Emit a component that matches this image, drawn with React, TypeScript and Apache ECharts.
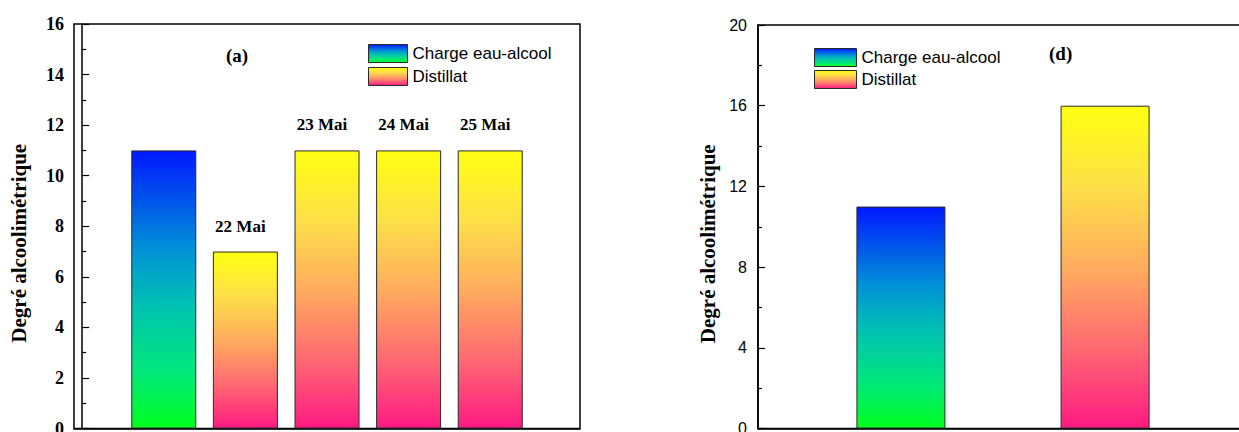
import React, { useEffect, useRef } from "react";
import * as echarts from "echarts";

// ---- data ----
const seriesNames = ["Charge eau-alcool", "Distillat"];
const leftChargeValues = [11];
const leftDistillatValues = [7, 11, 11, 11];
const leftDistillatLabels = ["22 Mai", "23 Mai", "24 Mai", "25 Mai"];
const rightChargeValues = [11];
const rightDistillatValues = [16];
const leftYMax = 16;
const leftYStep = 2;
const rightYMax = 20;
const rightYStep = 4;
const yTitle = "Degré alcoolimétrique";
const leftPanelTag = "(a)";
const rightPanelTag = "(d)";

const SERIF = "'Liberation Serif', 'Times New Roman', serif";
const SANS = "'Liberation Sans', Arial, sans-serif";

const chargeGradient = () =>
  new echarts.graphic.LinearGradient(0, 0, 0, 1, [
    { offset: 0, color: "#0018ff" },
    { offset: 0.35, color: "#0090d8" },
    { offset: 0.55, color: "#00c0b4" },
    { offset: 0.8, color: "#00e87a" },
    { offset: 1, color: "#00ff1e" },
  ]);
const distGradient = () =>
  new echarts.graphic.LinearGradient(0, 0, 0, 1, [
    { offset: 0, color: "#ffff10" },
    { offset: 0.25, color: "#fde048" },
    { offset: 0.5, color: "#ffac5e" },
    { offset: 0.75, color: "#ff6a72" },
    { offset: 1, color: "#ff1a82" },
  ]);

export default function App() {
  const ref = useRef<HTMLDivElement>(null);
  useEffect(() => {
    if (!ref.current) return;
    const chart = echarts.init(ref.current, null, { renderer: "svg" });

    const leftCharge = leftChargeValues.map((v, i) => [i + 1, v]);
    const leftDist = leftDistillatValues.map((v, i) => [leftChargeValues.length + i + 1, v]);
    const rightCharge = rightChargeValues.map((v, i) => [i + 1, v]);
    const rightDist = rightDistillatValues.map((v, i) => [rightChargeValues.length + i + 1, v]);

    const yAxisBase = (gridIndex: number, max: number, step: number, labelStyle: any, nameGap: number) => ({
      type: "value",
      gridIndex,
      min: 0,
      max,
      interval: step,
      name: yTitle,
      nameLocation: "middle",
      nameRotate: 90,
      nameGap,
      nameTextStyle: { fontFamily: SERIF, fontWeight: "bold", fontSize: 21, color: "#000", padding: [0, 34, 0, 0] },
      axisLine: { show: true, lineStyle: { color: "#000", width: 1.5 } },
      axisTick: { show: true, inside: true, length: 7, lineStyle: { color: "#000", width: 1.2 } },
      minorTick: { show: true, splitNumber: 2, length: 4, lineStyle: { color: "#000", width: 1.2 } },
      splitLine: { show: false },
      minorSplitLine: { show: false },
      axisLabel: { color: "#000", ...labelStyle },
    });

    const xAxisBase = (gridIndex: number, min: number, max: number) => ({
      type: "value",
      gridIndex,
      min,
      max,
      axisLine: { show: true, onZero: false, lineStyle: { color: "#000", width: 1.5 } },
      axisTick: { show: false },
      axisLabel: { show: false },
      splitLine: { show: false },
    });

    const barStyle = (grad: any) => ({
      color: grad,
      borderColor: "#2a2a2a",
      borderWidth: 1,
    });

    const legendBase = (left: number, top: number, itemWidth: number, itemGap: number) => ({
      data: seriesNames,
      orient: "vertical",
      left,
      top,
      padding: 0,
      itemWidth,
      itemHeight: 18,
      itemGap,
      icon: "rect",
      selectedMode: false,
      itemStyle: { borderColor: "#2a2a2a", borderWidth: 1 },
      textStyle: { fontFamily: SANS, fontSize: 17, color: "#000" },
    });

    chart.setOption({
      animation: false,
      backgroundColor: "#fff",
      grid: [
        { left: 74, top: 24, width: 506, height: 404.5, show: true, borderColor: "#000", borderWidth: 1.5, containLabel: false, outerBoundsMode: "none" },
        { left: 758, top: 25, width: 490, height: 403.5, show: true, borderColor: "#000", borderWidth: 1.5, containLabel: false, outerBoundsMode: "none" },
      ],
      xAxis: [xAxisBase(0, -0.1, 6.1), xAxisBase(1, 0.3, 2.7)],
      yAxis: [
        yAxisBase(0, leftYMax, leftYStep, { fontFamily: SERIF, fontWeight: "bold", fontSize: 18, margin: 10 }, 45),
        yAxisBase(1, rightYMax, rightYStep, { fontFamily: SANS, fontSize: 16, margin: 11 }, 40),
      ],
      legend: [legendBase(368, 44, 39, 4), legendBase(814, 48, 42, 3)],
      series: [
        {
          type: "bar",
          name: seriesNames[0],
          xAxisIndex: 0,
          yAxisIndex: 0,
          data: leftCharge,
          barWidth: 65,
          barGap: "-100%",
          itemStyle: barStyle(chargeGradient()),
        },
        {
          type: "bar",
          name: seriesNames[1],
          xAxisIndex: 0,
          yAxisIndex: 0,
          data: leftDist,
          barWidth: 65,
          barGap: "-100%",
          itemStyle: barStyle(distGradient()),
          label: {
            show: true,
            position: "top",
            distance: 17,
            offset: [-5, 0],
            formatter: (p: any) => leftDistillatLabels[p.dataIndex],
            fontFamily: SERIF,
            fontWeight: "bold",
            fontSize: 17,
            color: "#000",
          },
        },
        {
          type: "bar",
          name: seriesNames[0],
          xAxisIndex: 1,
          yAxisIndex: 1,
          data: rightCharge,
          barWidth: 89,
          barGap: "-100%",
          itemStyle: barStyle(chargeGradient()),
        },
        {
          type: "bar",
          name: seriesNames[1],
          xAxisIndex: 1,
          yAxisIndex: 1,
          data: rightDist,
          barWidth: 89,
          barGap: "-100%",
          itemStyle: barStyle(distGradient()),
        },
      ],
      graphic: [
        {
          type: "text",
          left: 226,
          top: 46,
          style: { text: leftPanelTag, font: `bold 19px ${SERIF}`, fill: "#000" },
        },
        {
          type: "text",
          left: 1049,
          top: 44,
          style: { text: rightPanelTag, font: `bold 19px ${SERIF}`, fill: "#000" },
        },
      ],
    });
    return () => chart.dispose();
  }, []);

  return (
    <div style={{ position: "fixed", left: 0, top: 0, width: 1239, height: 432, overflow: "hidden", background: "#fff" }}>
      <div ref={ref} style={{ width: 1260, height: 432 }} />
    </div>
  );
}
